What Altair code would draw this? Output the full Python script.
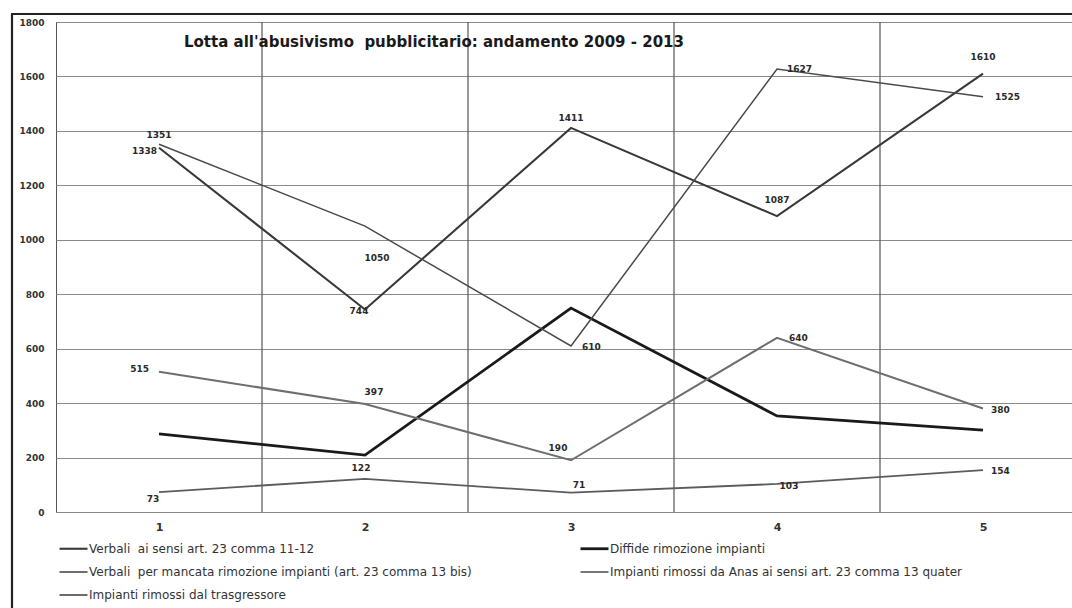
import altair as alt
import pandas as pd

# ---- data -----------------------------------------------------------------
PERIODS = [1, 2, 3, 4, 5]

SERIES = [
    "Verbali\u00a0 ai sensi art. 23 comma 11-12",
    "Diffide rimozione impianti",
    "Verbali\u00a0 per mancata rimozione impianti (art. 23 comma 13 bis)",
    "Impianti rimossi da Anas ai sensi art. 23 comma 13 quater",
    "Impianti rimossi dal trasgressore",
]

verbali_11_12 = [1338, 744, 1411, 1087, 1610]
diffide = [287, 209, 749, 353, 301]
verbali_13_bis = [515, 397, 190, 640, 380]
anas_13_quater = [1351, 1050, 610, 1627, 1525]
rimossi_trasgressore = [73, 122, 71, 103, 154]

VALUES = [verbali_11_12, diffide, verbali_13_bis, anas_13_quater, rimossi_trasgressore]
LABELLED = [True, False, True, True, True]

TITLE = "Lotta all'abusivismo\u00a0 pubblicitario: andamento 2009 - 2013"

# ---- styling --------------------------------------------------------------
COLORS = ["#383838", "#1a1a1a", "#6e6e6e", "#4a4a4a", "#5c5c5c"]
WIDTHS = [2.1, 2.8, 2.0, 1.5, 1.8]

# (align, dx, dy) for each value label, series by series
LABEL_STYLE = {
    SERIES[0]: [("right", -2, 3), ("center", -6, 2), ("center", 0, -10),
                ("center", 0, -16), ("center", 0, -17)],
    SERIES[2]: [("right", -10, -3), ("center", 9, -12), ("center", -13, -12),
                ("left", 12, 0), ("left", 8, 1)],
    SERIES[3]: [("center", 0, -9), ("center", 12, 32), ("left", 11, 1),
                ("left", 10, 0), ("left", 12, 0)],
    SERIES[4]: [("center", -6, 7), ("center", -4, -11), ("center", 8, -8),
                ("center", 12, 2), ("left", 8, 1)],
}

W, H = 1016, 490
PAD = {"left": 56, "top": 22, "right": 0, "bottom": 96}
X_DOMAIN = [0.5, 0.5 + W / 206.0]

rows = []
for name, vals in zip(SERIES, VALUES):
    for p, v in zip(PERIODS, vals):
        rows.append({"serie": name, "periodo": p, "valore": v})
df = pd.DataFrame(rows)

dividers = pd.DataFrame({"periodo": [p + 0.5 for p in PERIODS[:-1]]})

x_scale = alt.Scale(domain=X_DOMAIN, nice=False, zero=False)
y_scale = alt.Scale(domain=[0, 1800], nice=False)

X_AXIS = alt.Axis(
    values=PERIODS, format="d", grid=False, ticks=False, domain=False,
    labelPadding=9, labelFont="DejaVu Sans", labelFontWeight="bold",
    labelFontSize=11, labelColor="#333333", title=None,
)
Y_AXIS = alt.Axis(
    values=list(range(0, 1801, 200)), format="d", grid=True,
    gridColor="#8a8a8a", gridWidth=1, ticks=False, domain=False,
    labelPadding=12, labelFont="DejaVu Sans", labelFontWeight="bold",
    labelFontSize=9, labelColor="#333333", title=None,
)


def xenc():
    return alt.X("periodo:Q", scale=x_scale, axis=X_AXIS)


def yenc():
    return alt.Y("valore:Q", scale=y_scale, axis=Y_AXIS)


shared_legend = alt.Legend(
    title=None,
    orient="none",
    legendX=9,
    legendY=518,
    columns=2,
    direction="horizontal",
    columnPadding=102,
    rowPadding=9,
    symbolType="M-2,0L2,0",
    symbolSize=196,
    symbolStrokeWidth=2,
    labelOffset=7,
    labelFont="DejaVu Sans",
    labelFontSize=12,
    labelColor="#333333",
    labelLimit=600,
    padding=0,
)

lines = alt.Chart(df).mark_line().encode(
    x=xenc(),
    y=yenc(),
    color=alt.Color("serie:N", scale=alt.Scale(domain=SERIES, range=COLORS),
                    legend=shared_legend),
    strokeWidth=alt.StrokeWidth(
        "serie:N",
        scale=alt.Scale(type="ordinal", domain=SERIES, range=WIDTHS),
        legend=shared_legend,
    ),
)

vlines = alt.Chart(dividers).mark_rule(color="#555555", strokeWidth=1.2).encode(
    x=xenc(),
)

# value labels
label_layers = []
for name, labelled in zip(SERIES, LABELLED):
    if not labelled:
        continue
    for p, (align, dx, dy) in zip(PERIODS, LABEL_STYLE[name]):
        label_layers.append(
            alt.Chart(df)
            .transform_filter((alt.datum.serie == name) & (alt.datum.periodo == p))
            .mark_text(align=align, baseline="middle", dx=dx, dy=dy,
                       font="DejaVu Sans", fontWeight="bold", fontSize=9,
                       color="#2a2a2a")
            .encode(x=xenc(), y=yenc(), text=alt.Text("valore:Q", format="d"))
        )

title = alt.Chart(pd.DataFrame({"t": [TITLE]})).mark_text(
    align="left", baseline="middle", font="DejaVu Sans", fontWeight="bold",
    fontSize=15, color="#1a1a1a",
).encode(x=alt.value(128), y=alt.value(20), text="t:N")

# outer frame (left and top edges)
frame_left = alt.Chart(pd.DataFrame({"k": [0]})).mark_rule(
    color="#222222", strokeWidth=2.2
).encode(x=alt.value(-44), y=alt.value(-8), y2=alt.value(H + 120))
frame_top = alt.Chart(pd.DataFrame({"k": [0]})).mark_rule(
    color="#222222", strokeWidth=2.2
).encode(x=alt.value(-45), x2=alt.value(W + 40), y=alt.value(-8))

chart = (
    alt.layer(vlines, lines, *label_layers, title, frame_left, frame_top)
    .properties(
        width=W,
        height=H,
        autosize=alt.AutoSizeParams(type="none"),
        padding=PAD,
        background="white",
    )
    .configure_view(stroke="#555555", strokeWidth=1)
)

chart.save("out.html", embed_options={"renderer": "svg", "actions": False})
